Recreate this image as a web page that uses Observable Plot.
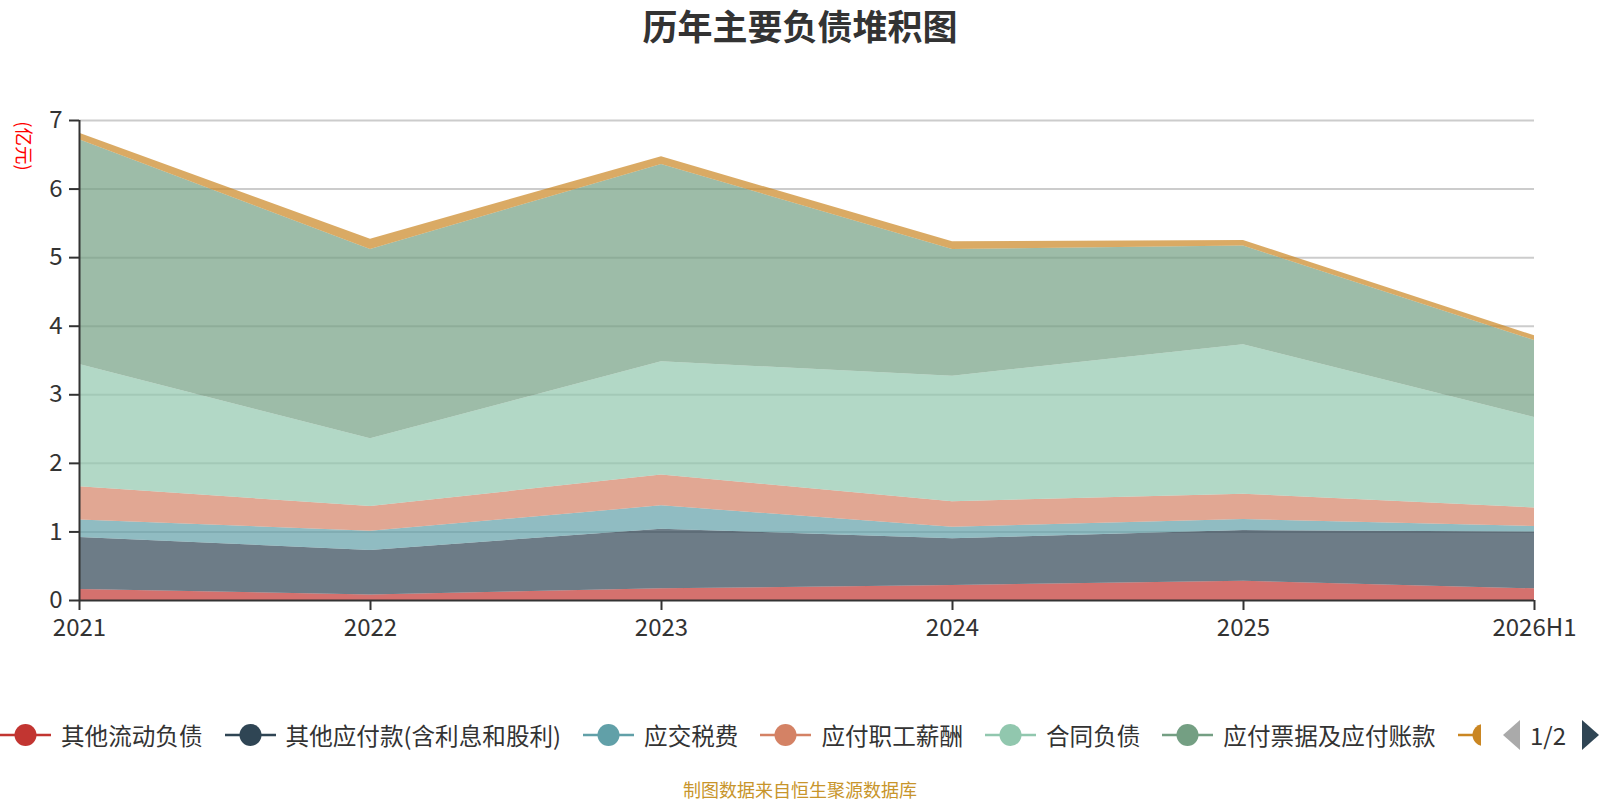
<!DOCTYPE html>
<html>
<head>
<meta charset="utf-8">
<script src="https://cdn.jsdelivr.net/npm/d3@7"></script>
<script src="https://cdn.jsdelivr.net/npm/@observablehq/plot@0.6"></script>
<style>
  html, body { margin: 0; padding: 0; background: #fff; }
  body { width: 1600px; height: 800px; position: relative; overflow: hidden;
         font-family: "Noto Sans CJK SC", "Noto Sans", sans-serif; color: #333; }
  #chart { position: absolute; left: 0; top: 0; }
  #title { position: absolute; left: 0; width: 1600px; top: 3px; text-align: center;
           font-size: 35px; font-weight: bold; color: #333; line-height: 44px; }
  #ylabel { position: absolute; left: 0px; top: 135px; color: #ff0000; font-size: 18.5px;
            transform: rotate(90deg); transform-origin: center; white-space: nowrap; line-height: 22px; }
  #legend { position: absolute; left: 0; top: 717px; width: 1481px; height: 36px; overflow: hidden;
            display: flex; align-items: center; white-space: nowrap; }
  .item { display: flex; align-items: center; margin-right: 22px; flex: none; }
  .item span { font-size: 23.6px; color: #333; margin-left: 10px; line-height: 36px; }
  .pg { position: absolute; }
  #pgtext { position: absolute; left: 1530px; top: 718px; font-size: 24px; color: #333; line-height: 34px; }
  #footer { position: absolute; left: 0; width: 1600px; top: 777px; text-align: center;
            font-size: 18px; color: #c8952b; line-height: 24px; }
</style>
</head>
<body>
<div id="chart"></div>
<div id="title">历年主要负债堆积图</div>
<div id="ylabel">(亿元)</div>
<div id="legend"></div>
<svg class="pg" style="left:1503px;top:720px" width="17" height="30"><polygon points="17,0 17,30 0,15" fill="#aaaaaa"/></svg>
<div id="pgtext">1/2</div>
<svg class="pg" style="left:1582px;top:720px" width="17" height="30"><polygon points="0,0 0,30 17,15" fill="#2f4554"/></svg>
<div id="footer">制图数据来自恒生聚源数据库</div>
<script>
// ---- data ----
const years = ["2021", "2022", "2023", "2024", "2025", "2026H1"];
const seriesNames = ["其他流动负债", "其他应付款(含利息和股利)", "应交税费", "应付职工薪酬", "合同负债", "应付票据及应付账款", "其他负债"];
const otherCurrent   = [0.16, 0.08, 0.17, 0.22, 0.28, 0.17];
const otherPayables  = [0.76, 0.65, 0.87, 0.68, 0.74, 0.83];
const taxesPayable   = [0.255, 0.28, 0.34, 0.17, 0.16, 0.08];
const salaries       = [0.485, 0.36, 0.45, 0.37, 0.37, 0.27];
const contractLiab   = [1.78, 0.99, 1.65, 1.83, 2.18, 1.32];
const notesPayable   = [3.28, 2.76, 2.88, 1.85, 1.44, 1.12];
const seventhSeries  = [0.095, 0.15, 0.11, 0.11, 0.08, 0.07];
const yTicks = [0, 1, 2, 3, 4, 5, 6, 7];
const palette = ["#c23531", "#2f4554", "#61a0a8", "#d48265", "#91c7ae", "#749f83", "#ca8622"];
// the 7th legend entry is clipped by the legend page in the reference: only its icon shows
const visibleLegendLabels = 6;

const valueArrays = [otherCurrent, otherPayables, taxesPayable, salaries, contractLiab, notesPayable, seventhSeries];
const rows = [];
seriesNames.forEach((s, i) => years.forEach((y, j) => rows.push({year: y, series: s, value: valueArrays[i][j]})));

const chart = Plot.plot({
  width: 1600,
  height: 800,
  marginLeft: 79,
  marginRight: 66,
  marginTop: 120,
  marginBottom: 200,
  style: {fontFamily: '"Noto Sans CJK SC", "Noto Sans", sans-serif', fontSize: "24px", color: "#333", background: "transparent"},
  x: {type: "point", domain: years, padding: 0, label: null},
  y: {domain: [0, 7], label: null},
  color: {domain: seriesNames, range: palette},
  marks: [
    Plot.gridY(yTicks.filter(d => d > 0), {stroke: "#cccccc", strokeOpacity: 1, strokeWidth: 2}),
    Plot.areaY(rows, Plot.stackY({
      x: "year", y: "value", z: "series", fill: "series", order: seriesNames,
      fillOpacity: 0.7, curve: "linear"
    })),
    Plot.ruleY([0], {stroke: "#333", strokeWidth: 2}),
    Plot.ruleX([years[0]], {stroke: "#333", strokeWidth: 2}),
    Plot.axisY(yTicks, {tickSize: 10, tickPadding: 7, tickFormat: d3.format("d"), stroke: "#333", strokeWidth: 2, fill: "#333", fontSize: 24}),
    Plot.axisX(years, {tickSize: 10, tickPadding: 8, stroke: "#333", strokeWidth: 2, fill: "#333", fontSize: 24})
  ]
});
document.getElementById("chart").appendChild(chart);

// ---- legend ----
const legend = document.getElementById("legend");
seriesNames.forEach((s, i) => {
  const item = document.createElement("div");
  item.className = "item";
  const label = i < visibleLegendLabels ? `<span>${s}</span>` : "";
  item.innerHTML = `<svg width="51" height="24"><line x1="0" y1="12" x2="51" y2="12" stroke="${palette[i]}" stroke-width="2.5"/><circle cx="25.5" cy="12" r="11" fill="${palette[i]}"/></svg>${label}`;
  legend.appendChild(item);
});
</script>
</body>
</html>
